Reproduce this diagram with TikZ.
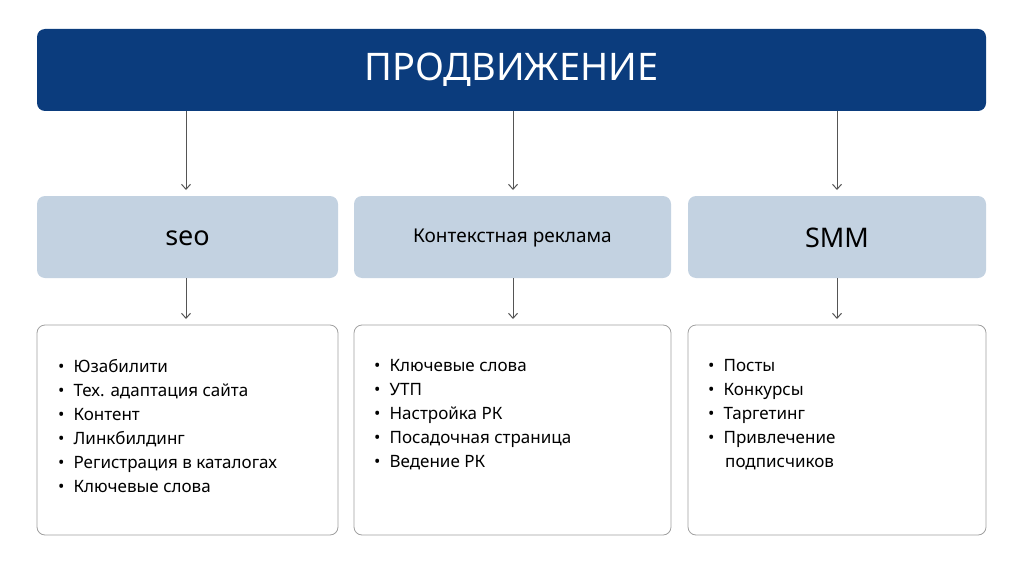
\documentclass[tikz,border=0pt]{standalone}
\usepackage{fontspec}
\usetikzlibrary{arrows.meta}
\setmainfont{Noto Sans}
\definecolor{navy}{HTML}{0B3C7D}
\definecolor{pale}{HTML}{C3D2E1}
\definecolor{arr}{HTML}{555555}
\definecolor{bord}{HTML}{A0A0A0}
\begin{document}
\begin{tikzpicture}[x=1pt,y=-1pt,
  top/.style={fill=navy,rounded corners=8pt},
  mid/.style={fill=pale,rounded corners=8pt},
  low/.style={draw=bord,fill=white,rounded corners=8pt,line width=0.8pt},
  con/.style={draw=arr,line width=1pt,-{Straight Barb[length=5pt,width=9pt]}},
  lst/.style={anchor=north west,align=left,font=\fontsize{17}{24}\selectfont,inner sep=0pt}]
\useasboundingbox (0,0) rectangle (1024,567);
\fill[top] (37,29) rectangle (986,111);
\node[text=white,font=\fontsize{38}{40}\selectfont] (t) at (511.5,70) {ПРОДВИЖЕНИЕ};
\foreach \n/\a/\b/\c in {s/37/338/186, k/354/671/513, m/688/986/837}{
  \fill[mid] (\a,196) rectangle (\b,278);
  \draw[low] (\a,325) rectangle (\b,535);
  \coordinate (\n0) at (\c,111);
  \coordinate (\n1) at (\c,190);
  \coordinate (\n2) at (\c,278);
  \coordinate (\n3) at (\c,319);
  \draw[con] (\n0) -- (\n1);
  \draw[con] (\n2) -- (\n3);
}
\node[font=\fontsize{27}{30}\selectfont] (seo) at (187.5,238) {seo};
\node[font=\fontsize{19}{22}\selectfont] (ctx) at (512.5,238) {Контекстная реклама};
\node[font=\fontsize{27}{30}\selectfont] (smm) at (837,238) {SMM};
\node[lst] (l1) at (58,359) {•\hspace{9pt}Юзабилити\\•\hspace{9pt}Тех. адаптация сайта\\•\hspace{9pt}Контент\\•\hspace{9pt}Линкбилдинг\\•\hspace{9pt}Регистрация в каталогах\\•\hspace{9pt}Ключевые слова};
\node[lst] (l2) at (374,359) {•\hspace{9pt}Ключевые слова\\•\hspace{9pt}УТП\\•\hspace{9pt}Настройка РК\\•\hspace{9pt}Посадочная страница\\•\hspace{9pt}Ведение РК};
\node[lst] (l3) at (708,359) {•\hspace{9pt}Посты\\•\hspace{9pt}Конкурсы\\•\hspace{9pt}Таргетинг\\•\hspace{9pt}Привлечение\\\hspace*{17pt}подписчиков};
\end{tikzpicture}
\end{document}
